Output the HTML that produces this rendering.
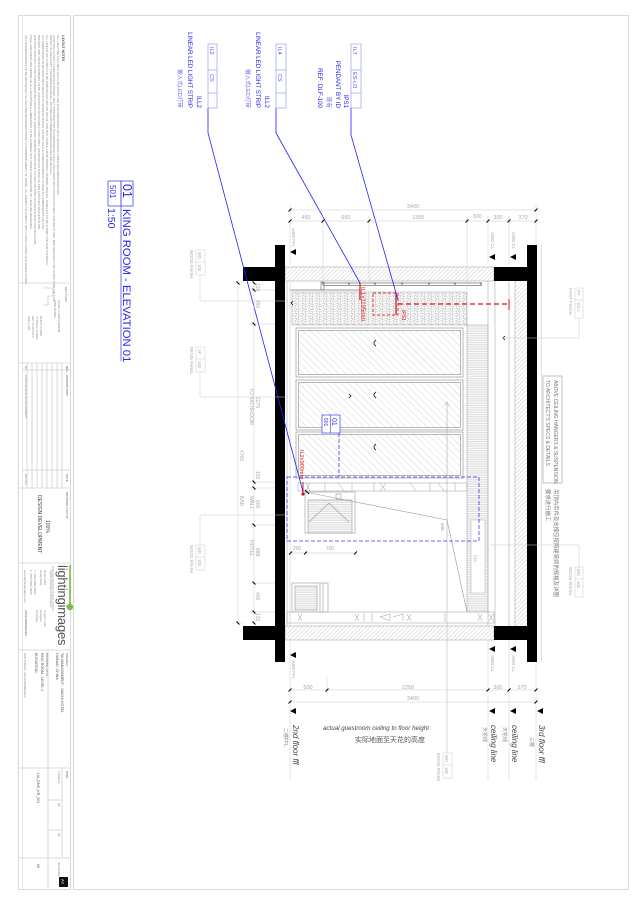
<!DOCTYPE html>
<html><head><meta charset="utf-8"><style>
html,body{margin:0;padding:0;background:#fff;}
svg{display:block;}
text{font-family:"Liberation Sans","Noto Sans CJK SC",sans-serif;}
</style></head><body>
<svg width="640" height="905" viewBox="0 0 640 905" xmlns="http://www.w3.org/2000/svg">
<defs>
<pattern id="h45" width="3" height="3" patternUnits="userSpaceOnUse" patternTransform="rotate(45)"><line x1="0" y1="0" x2="0" y2="3" stroke="#aaa" stroke-width="0.6"/></pattern>
<pattern id="pan" width="5" height="5" patternUnits="userSpaceOnUse" patternTransform="rotate(-45)"><line x1="0" y1="0" x2="0" y2="5" stroke="#b0b0b0" stroke-width="0.5"/></pattern>
<pattern id="hz" width="4" height="1.8" patternUnits="userSpaceOnUse"><line x1="0" y1="0.5" x2="4" y2="0.5" stroke="#bbb" stroke-width="0.5"/></pattern>
<pattern id="wood" width="7" height="5" patternUnits="userSpaceOnUse"><path d="M0 1 Q2 0 3.5 1.5 T7 1 M0 3.5 Q2 2.5 3.5 4 T7 3.5 M1 0 L2.5 5 M5 0 L4 5" stroke="#b5b5b5" stroke-width="0.45" fill="none"/></pattern>
</defs>
<rect width="640" height="905" fill="#fff"/>

<!-- frames -->
<rect x="18.5" y="15.5" width="52" height="874" fill="none" stroke="#d8d8d8" stroke-width="1"/>
<line x1="22.5" y1="15" x2="22.5" y2="889" stroke="#e6e6e6"/>
<rect x="73.5" y="15.5" width="555" height="874" fill="none" stroke="#d8d8d8" stroke-width="1"/>

<!-- title block dividers -->
<g stroke="#d0d0d0" stroke-width="0.8">
<line x1="18" y1="283" x2="70" y2="283"/>
<line x1="18" y1="363" x2="70" y2="363"/>
<line x1="18" y1="488" x2="70" y2="488"/>
<line x1="18" y1="563" x2="70" y2="563"/>
<line x1="18" y1="650" x2="70" y2="650"/>
<line x1="18" y1="768" x2="70" y2="768"/>
<line x1="18" y1="858" x2="70" y2="858"/>
<line x1="62" y1="363" x2="62" y2="488"/>
<line x1="57" y1="363" x2="57" y2="488"/>
<line x1="52" y1="363" x2="52" y2="488"/>
<line x1="47" y1="363" x2="47" y2="488"/>
<line x1="42" y1="363" x2="42" y2="488"/>
<line x1="37" y1="363" x2="37" y2="488"/>
<line x1="32" y1="363" x2="32" y2="488"/>
<line x1="27" y1="363" x2="27" y2="488"/>
<line x1="22" y1="370" x2="70" y2="370"/>
<line x1="22" y1="470" x2="70" y2="470"/>
<line x1="48" y1="650" x2="48" y2="768"/>
<line x1="48" y1="768" x2="48" y2="858"/>
<line x1="48" y1="800" x2="62" y2="800"/>
<line x1="48" y1="830" x2="62" y2="830"/>
<line x1="62" y1="768" x2="62" y2="858"/>
<line x1="48" y1="858" x2="48" y2="889"/>
</g>

<!-- title block texts -->
<g fill="#888" font-size="3">
<text x="62" y="35" transform="rotate(90 62 35)" font-weight="bold" font-size="3.4" fill="#555">LAYOUT NOTES</text>
<text x="57" y="35" transform="rotate(90 57 35)">ALL LIGHTING FIXTURES SHALL BE INSTALLED IN ACCORDANCE WITH MANUFACTURER RECOMMENDATIONS</text>
<text x="53" y="35" transform="rotate(90 53 35)">LIGHTING LAYOUT IS FOR DESIGN INTENT ONLY. CONTRACTOR TO COORDINATE FINAL LOCATIONS WITH ARCHITECTURAL CEILING PLANS, M&amp;E SERVICES AND STRUCTURE ON SITE</text>
<text x="50" y="35" transform="rotate(90 50 35)">REFER TO ARCHITECT'S DRAWINGS FOR ALL SETTING OUT DIMENSIONS AND CEILING DETAILS</text>
<text x="46" y="35" transform="rotate(90 46 35)">ALL LINEAR LED STRIPS TO BE CONCEALED WITHIN DETAIL AND NOT VISIBLE FROM NORMAL VIEWING ANGLES. SAMPLES TO BE SUBMITTED FOR APPROVAL</text>
<text x="42" y="35" transform="rotate(90 42 35)">ALL DIMENSIONS IN MILLIMETRES UNLESS OTHERWISE NOTED. DO NOT SCALE FROM DRAWINGS. CHECK ALL DIMENSIONS ON SITE</text>
<text x="38" y="35" transform="rotate(90 38 35)">DRIVERS AND TRANSFORMERS TO BE LOCATED IN ACCESSIBLE POSITIONS, MAXIMUM DISTANCE AS PER SUPPLIER SPECIFICATION</text>
<text x="34" y="35" transform="rotate(90 34 35)">CONTROL CIRCUITS TO BE CONFIRMED WITH ELECTRICAL ENGINEER. DIMMING PROTOCOL AS PER LIGHTING SCHEDULE AND SPECIFICATION</text>
<text x="30" y="35" transform="rotate(90 30 35)">FINAL FOCUSING AND AIMING OF ALL ADJUSTABLE LUMINAIRES TO BE CARRIED OUT UNDER SUPERVISION OF LIGHTING DESIGNER</text>
<text x="25" y="35" transform="rotate(90 25 35)">ANY DISCREPANCIES TO BE REPORTED TO LIGHTING DESIGNER PRIOR TO COMMENCEMENT OF WORK. ALL WORKS TO COMPLY WITH LOCAL CODES AND REGULATIONS</text>

<text x="65" y="287" transform="rotate(90 65 287)" fill="#666">KEY PLAN</text>
<text x="58" y="300" transform="rotate(90 58 300)">LEVEL 2 GUESTROOM</text>
<text x="54" y="300" transform="rotate(90 54 300)">KING ROOM</text>
<text x="40" y="316" transform="rotate(90 40 316)">NORTH POINT</text>
<text x="36" y="316" transform="rotate(90 36 316)">TYPICAL FLOOR</text>
<text x="32" y="316" transform="rotate(90 32 316)">KEY PLAN NTS</text>
<text x="28" y="316" transform="rotate(90 28 316)">SEE A-101</text>

<text x="66" y="366" transform="rotate(90 66 366)" fill="#555">REV</text>
<text x="66" y="375" transform="rotate(90 66 375)" fill="#555">DESCRIPTION</text>
<text x="66" y="474" transform="rotate(90 66 474)" fill="#555">DATE</text>
<text x="25" y="366" transform="rotate(90 25 366)">00</text>
<text x="25" y="375" transform="rotate(90 25 375)">100% DESIGN DEVELOPMENT</text>
<text x="25" y="474" transform="rotate(90 25 474)">2014.03</text>

<text x="66" y="492" transform="rotate(90 66 492)" fill="#666">DRAWING STATUS</text>
<text x="46" y="520" transform="rotate(90 46 520)" font-size="5" fill="#444">100%</text>
<text x="38" y="495" transform="rotate(90 38 495)" font-size="5" fill="#444">DESIGN DEVELOPMENT</text>

<text x="50" y="570" transform="rotate(90 50 570)">Lighting Design Consultants</text>
<text x="44" y="570" transform="rotate(90 44 570)">Room 1201</text>
<text x="40" y="570" transform="rotate(90 40 570)">Hong Kong</text>
<text x="34" y="570" transform="rotate(90 34 570)">T +852 0000 0000</text>
<text x="30" y="570" transform="rotate(90 30 570)">F +852 0000 0000</text>
<text x="24" y="570" transform="rotate(90 24 570)">www.lightingimages.com</text>
<text x="44" y="610" transform="rotate(90 44 610)">Project Lead</text>
<text x="40" y="610" transform="rotate(90 40 610)">Designer</text>
<text x="36" y="610" transform="rotate(90 36 610)">Checked</text>
<text x="25" y="610" transform="rotate(90 25 610)" fill="#555">LIGHTINGIMAGES</text>

<text x="66" y="653" transform="rotate(90 66 653)" fill="#666">PROJECT</text>
<text x="61" y="653" transform="rotate(90 61 653)" font-size="3.6" fill="#555">TAI MANAGEMENT - SANYA HOTEL</text>
<text x="56" y="653" transform="rotate(90 56 653)" font-size="3.6" fill="#555">HAINAN, CHINA</text>
<text x="46" y="653" transform="rotate(90 46 653)" fill="#666">DRAWING TITLE</text>
<text x="41" y="653" transform="rotate(90 41 653)" font-size="3.6" fill="#555">KING ROOM - LEVEL 2</text>
<text x="35" y="653" transform="rotate(90 35 653)" font-size="3.6" fill="#555">ELEVATION</text>
<text x="24" y="653" transform="rotate(90 24 653)">COPYRIGHT LIGHTINGIMAGES</text>

<text x="66" y="771" transform="rotate(90 66 771)" fill="#666">DWG</text>
<text x="58" y="771" transform="rotate(90 58 771)">1:50@A3</text>
<text x="58" y="803" transform="rotate(90 58 803)">NP</text>
<text x="58" y="833" transform="rotate(90 58 833)">NP</text>
<text x="37" y="773" transform="rotate(90 37 773)" font-size="3.6" fill="#555">LIA_DNG_KR_501</text>
<text x="58" y="862" transform="rotate(90 58 862)">REVISION</text>
<text x="37" y="864" transform="rotate(90 37 864)" font-size="3.6" fill="#555">00</text>
</g>
<path d="M43 288 L53 288 L53 296 L48 296 L48 305 L43 305" fill="none" stroke="#bbb" stroke-width="0.6"/>

<!-- logo -->
<line x1="70" y1="565" x2="70" y2="607" stroke="#7ac143" stroke-width="1.6"/>
<circle cx="70" cy="607" r="3.2" fill="#7ac143"/>
<text x="58" y="565" transform="rotate(90 58 565)" font-size="13" fill="#555" letter-spacing="-0.2">lighting<tspan fill="#555">images</tspan></text>
<text x="52" y="566" transform="rotate(90 52 566)" font-size="2.6" fill="#999">LIGHTING ARCHITECTURAL DESIGN</text>

<rect x="59" y="877" width="9" height="10" fill="#111"/>
<text x="61.5" y="879" transform="rotate(90 61.5 879)" font-size="4" fill="#fff">A3</text>

<!-- ===== DRAWING ===== -->
<rect x="285" y="267" width="209" height="14" fill="url(#h45)"/>
<rect x="285" y="626" width="209" height="14" fill="url(#h45)"/>
<rect x="515" y="281" width="12" height="345" fill="url(#h45)"/>
<g stroke="#aaa" stroke-width="0.6" fill="none">
<rect x="285" y="267" width="209" height="14"/>
<rect x="285" y="626" width="209" height="14"/>
<line x1="515" y1="281" x2="515" y2="626"/>
<line x1="509" y1="281" x2="509" y2="626"/>
<line x1="495" y1="281" x2="495" y2="626"/>
<line x1="488" y1="281" x2="488" y2="626"/>
<line x1="287" y1="281" x2="287" y2="626"/>
<line x1="290" y1="281" x2="290" y2="626" stroke="#ccc"/>
<line x1="541.5" y1="245" x2="541.5" y2="662" stroke="#ccc"/>
</g>

<g fill="#000">
<rect x="275" y="245" width="10" height="417"/>
<rect x="243" y="267" width="42" height="14"/>
<rect x="243" y="626" width="42" height="14"/>
<rect x="527" y="245" width="10" height="417"/>
<rect x="494" y="267" width="43" height="14"/>
<rect x="494" y="626" width="43" height="14"/>
</g>

<g stroke="#777" stroke-width="0.7" fill="none">
<line x1="323" y1="283" x2="482" y2="283"/>
<line x1="323" y1="285.5" x2="482" y2="285.5"/>
<line x1="290" y1="290" x2="360" y2="290"/>
<rect x="321" y="282" width="3" height="8"/>
</g>
<g fill="#888">
<circle cx="323" cy="283.5" r="1.2"/><circle cx="349" cy="283.5" r="1.2"/><circle cx="375" cy="283.5" r="1.2"/><circle cx="402" cy="283.5" r="1.2"/><circle cx="429" cy="283.5" r="1.2"/><circle cx="455" cy="283.5" r="1.2"/><circle cx="481" cy="283.5" r="1.2"/>
</g>

<rect x="292" y="292" width="175" height="33" fill="url(#wood)" stroke="#999" stroke-width="0.5"/>

<g stroke="#999" stroke-width="0.7">
<rect x="296" y="328" width="167" height="49" fill="#fff"/>
<rect x="298.5" y="330.5" width="162" height="44" fill="url(#pan)"/>
<rect x="296" y="380" width="167" height="50" fill="#fff"/>
<rect x="298.5" y="382.5" width="162" height="45" fill="url(#pan)"/>
<rect x="296" y="432" width="167" height="46" fill="#fff"/>
<rect x="298.5" y="434.5" width="162" height="41" fill="url(#pan)"/>
</g>
<g stroke="#111" stroke-width="0.8" fill="none">
<path d="M376 340 Q372 343 376 346"/>
<path d="M376 392 Q372 395 376 398"/>
<path d="M376 444 Q372 447 376 450"/>
<path d="M349 394 L351 396 L349 398"/>
<path d="M293 301 L291 303 L293 305"/>
<path d="M505 336 L503 338 L505 340"/>
<path d="M480 543 L478 545 L480 547"/>
</g>

<rect x="298" y="483" width="169" height="8" fill="#fff" stroke="#aaa" stroke-width="0.6"/>
<g stroke="#999" stroke-width="0.5">
<line x1="306" y1="483" x2="310" y2="491"/><line x1="310" y1="483" x2="306" y2="491"/>
<line x1="325" y1="483" x2="325" y2="491"/><line x1="338" y1="483" x2="344" y2="491"/>
<line x1="352" y1="483" x2="352" y2="491"/><line x1="374" y1="483" x2="374" y2="491"/>
<line x1="380" y1="483" x2="386" y2="491"/><line x1="386" y1="483" x2="380" y2="491"/>
<line x1="410" y1="483" x2="416" y2="491"/><line x1="430" y1="483" x2="430" y2="491"/>
<line x1="438" y1="483" x2="444" y2="491"/><line x1="455" y1="483" x2="455" y2="491"/>
</g>

<rect x="467" y="325" width="21" height="287" fill="url(#hz)" stroke="#aaa" stroke-width="0.6"/>
<rect x="471" y="520" width="14" height="73" fill="#fff" stroke="#aaa" stroke-width="0.5"/>
<text x="474" y="555" transform="rotate(90 474 555)" font-size="4" fill="#aaa">545</text>

<g stroke="#999" stroke-width="0.6" fill="none">
<rect x="305" y="492" width="50" height="41"/>
<rect x="308" y="500" width="44" height="33" fill="url(#hz)"/>
<path d="M309 522 L329 503 L349 522"/>
<rect x="336" y="494" width="5" height="5"/>
<path d="M305 492 L447 520 L467 612"/>
<rect x="292" y="583" width="36" height="29"/>
<rect x="295" y="586" width="22" height="24" fill="url(#hz)"/>
<line x1="320" y1="583" x2="320" y2="612"/><line x1="323" y1="583" x2="323" y2="612"/>
</g>
<text x="441" y="523" transform="rotate(90 441 523)" font-size="4.5" fill="#999">600</text>
<g stroke="#000" stroke-width="0.9">
<line x1="305" y1="490" x2="309" y2="494"/>
</g>
<g stroke="#bbb" stroke-width="0.5"><line x1="290" y1="553" x2="355" y2="553"/></g>
<g stroke="#000" stroke-width="1">
<line x1="289" y1="554.5" x2="292" y2="551.5"/><line x1="304" y1="554.5" x2="307" y2="551.5"/><line x1="354" y1="554.5" x2="357" y2="551.5"/>
</g>
<text x="297" y="550" font-size="5" fill="#aaa" text-anchor="middle">200</text>
<text x="330" y="550" font-size="5" fill="#aaa" text-anchor="middle">700</text>

<rect x="287" y="612" width="207" height="11" fill="none" stroke="#aaa" stroke-width="0.6"/>
<g stroke="#999" stroke-width="0.5">
<line x1="298" y1="614" x2="302" y2="621"/><line x1="302" y1="614" x2="298" y2="621"/>
<line x1="355" y1="614" x2="359" y2="621"/><line x1="359" y1="614" x2="355" y2="621"/>
<line x1="364" y1="613" x2="364" y2="622"/><line x1="372" y1="613" x2="372" y2="622"/>
<path d="M380 617 L390 614 L390 621 Z M393 617 L403 614 L403 621" fill="none"/>
<line x1="407" y1="614" x2="411" y2="621"/><line x1="411" y1="614" x2="407" y2="621"/>
<line x1="445" y1="613" x2="445" y2="622"/>
<line x1="478" y1="614" x2="482" y2="621"/><line x1="482" y1="614" x2="478" y2="621"/>
<line x1="489" y1="614" x2="493" y2="621"/><line x1="493" y1="614" x2="489" y2="621"/>
</g>
<path d="M444 406 L447 402 L450 406 M447 402 L447 612" stroke="#999" stroke-width="0.5" fill="none"/>
<line x1="447" y1="612" x2="447" y2="753" stroke="#bbb" stroke-width="0.6"/>

<g stroke="#3a3aff" stroke-width="0.8" fill="none" stroke-dasharray="4 2">
<rect x="287" y="477" width="192" height="64"/>
<line x1="339" y1="433" x2="339" y2="477"/>
</g>
<rect x="322" y="415" width="18" height="18" fill="#fff" stroke="#3a3aff" stroke-width="0.7"/>
<line x1="330.5" y1="415" x2="330.5" y2="433" stroke="#3a3aff" stroke-width="0.6"/>
<text x="332" y="418" transform="rotate(90 332 418)" font-size="7" fill="#2a2aee">01</text>
<text x="324" y="418" transform="rotate(90 324 418)" font-size="5" fill="#2a2aee">501</text>

<g stroke="#e01010" fill="none">
<rect x="373" y="293" width="25" height="22" stroke-dasharray="3 2" stroke-width="0.8"/>
<line x1="398" y1="304" x2="509" y2="304" stroke-dasharray="5 3" stroke-width="1.2"/>
<line x1="509" y1="299" x2="509" y2="310" stroke-width="1"/>
<line x1="396" y1="293" x2="396" y2="315" stroke-width="1.2"/>
<line x1="360" y1="283" x2="360" y2="300" stroke-width="1.2"/>
<line x1="303" y1="482" x2="303" y2="493" stroke-width="1"/>
</g>
<circle cx="303" cy="494" r="1.6" fill="#e01010"/>
<text x="361" y="287" transform="rotate(90 361 287)" font-size="6" fill="#e01010">IL1x1195mm</text>
<text x="402" y="310" transform="rotate(90 402 310)" font-size="5" fill="#e01010">IPS1</text>
<text x="300" y="450" transform="rotate(90 300 450)" font-size="5.6" fill="#e01010">IL2x900mm</text>

<g stroke="#2020ff" stroke-width="0.8" fill="none">
<polyline points="208,108 208,133 303,492"/>
<polyline points="276,108 276,133 360,283"/>
<polyline points="351,108 351,135 398,300"/>
</g>
<g stroke="#8a8af5" stroke-width="0.6" fill="none">
<rect x="208" y="44" width="9" height="64"/><line x1="208" y1="70" x2="217" y2="70"/><line x1="208" y1="93" x2="217" y2="93"/>
<rect x="276" y="44" width="10" height="64"/><line x1="276" y1="70" x2="286" y2="70"/><line x1="276" y1="93" x2="286" y2="93"/>
<rect x="351" y="44" width="10" height="64"/><line x1="351" y1="70" x2="361" y2="70"/><line x1="351" y1="93" x2="361" y2="93"/>
</g>
<g fill="#5555f0" font-size="5.5">
<text x="210" y="47" transform="rotate(90 210 47)">IL2</text>
<text x="210" y="74" transform="rotate(90 210 74)">CS</text>
<text x="278" y="47" transform="rotate(90 278 47)">IL4</text>
<text x="278" y="74" transform="rotate(90 278 74)">CS</text>
<text x="353" y="47" transform="rotate(90 353 47)">IL7</text>
<text x="353" y="72" transform="rotate(90 353 72)">ES-LD</text>
</g>
<g fill="#2525f0" font-size="6.2" text-anchor="end">
<text x="197" y="108" transform="rotate(90 197 108)">ILL2</text>
<text x="188" y="108" transform="rotate(90 188 108)">LINEAR LED LIGHT STRIP</text>
<text x="178" y="108" transform="rotate(90 178 108)" fill="#6a6af0" font-size="5.6">嵌入式LED灯带</text>
<text x="265" y="108" transform="rotate(90 265 108)">ILL2</text>
<text x="256" y="108" transform="rotate(90 256 108)">LINEAR LED LIGHT STRIP</text>
<text x="246" y="108" transform="rotate(90 246 108)" fill="#6a6af0" font-size="5.6">嵌入式LED灯带</text>
<text x="344" y="108" transform="rotate(90 344 108)">IPS1</text>
<text x="336" y="108" transform="rotate(90 336 108)">PENDANT BY ID</text>
<text x="327" y="108" transform="rotate(90 327 108)" fill="#6a6af0" font-size="5.6">现有</text>
<text x="318" y="108" transform="rotate(90 318 108)">REF: DLF-100</text>
</g>

<g stroke="#4a4af0" stroke-width="0.8" fill="none">
<rect x="121" y="181" width="12" height="25"/>
<rect x="108" y="181" width="13" height="25"/>
<line x1="121" y1="206" x2="121" y2="361"/>
</g>
<g fill="#2a2aee">
<text x="123" y="184" transform="rotate(90 123 184)" font-size="12.5">01</text>
<text x="123" y="209" transform="rotate(90 123 209)" font-size="11.3">KING ROOM - ELEVATION 01</text>
<text x="110" y="185" transform="rotate(90 110 185)" font-size="8">501</text>
<text x="108" y="208" transform="rotate(90 108 208)" font-size="10.5">1:50</text>
</g>

<g stroke="#ccc" stroke-width="0.5">
<line x1="290" y1="210" x2="536" y2="210"/>
<line x1="290" y1="221" x2="536" y2="221"/>
<line x1="290" y1="205" x2="290" y2="265"/>
<line x1="323" y1="216" x2="323" y2="280"/>
<line x1="369" y1="216" x2="369" y2="280"/>
<line x1="467" y1="216" x2="467" y2="290"/>
<line x1="488" y1="216" x2="488" y2="265"/>
<line x1="509" y1="216" x2="509" y2="265"/>
<line x1="536" y1="205" x2="536" y2="245"/>
</g>
<g stroke="#000" stroke-width="1">
<line x1="288.5" y1="211.5" x2="291.5" y2="208.5"/><line x1="534.5" y1="211.5" x2="537.5" y2="208.5"/>
<line x1="288.5" y1="222.5" x2="291.5" y2="219.5"/><line x1="321.5" y1="222.5" x2="324.5" y2="219.5"/>
<line x1="367.5" y1="222.5" x2="370.5" y2="219.5"/><line x1="465.5" y1="222.5" x2="468.5" y2="219.5"/>
<line x1="486.5" y1="222.5" x2="489.5" y2="219.5"/><line x1="507.5" y1="222.5" x2="510.5" y2="219.5"/>
<line x1="534.5" y1="222.5" x2="537.5" y2="219.5"/>
</g>
<g fill="#aaa" font-size="5.5" text-anchor="middle">
<text x="413" y="208">3400</text>
<text x="306" y="219">450</text><text x="346" y="219">650</text><text x="418" y="219">1350</text>
<text x="477" y="218">300</text><text x="498" y="219">300</text><text x="523" y="219">370</text>
</g>
<g fill="#000">
<path d="M290 252 L296 249 L296 255 Z"/>
<path d="M489 257 L495 254 L495 260 Z"/>
<path d="M510 257 L516 254 L516 260 Z"/>
</g>
<g fill="#aaa" font-size="4.5">
<text x="292" y="228" transform="rotate(90 292 228)">±000 FFL</text>
<text x="491" y="232" transform="rotate(90 491 232)">2800 CL</text>
<text x="512" y="232" transform="rotate(90 512 232)">2900 CL</text>
</g>

<g fill="#000">
<path d="M290 655 L296 652 L296 658 Z"/>
<path d="M489 649 L495 646 L495 652 Z"/>
<path d="M510 649 L516 646 L516 652 Z"/>
<path d="M290 711 L296 708 L296 714 Z"/>
<path d="M489 711 L495 708 L495 714 Z"/>
<path d="M510 711 L516 708 L516 714 Z"/>
<path d="M537 711 L543 708 L543 714 Z"/>
</g>
<g fill="#aaa" font-size="4.5">
<text x="292" y="660" transform="rotate(90 292 660)">±000 FFL</text>
<text x="491" y="655" transform="rotate(90 491 655)">2800 CL</text>
<text x="512" y="655" transform="rotate(90 512 655)">2900 CL</text>
</g>
<g stroke="#ccc" stroke-width="0.5">
<line x1="290" y1="690" x2="536" y2="690"/>
<line x1="290" y1="702" x2="536" y2="702"/>
<line x1="290" y1="640" x2="290" y2="780"/>
<line x1="327" y1="677" x2="327" y2="694"/>
<line x1="488" y1="640" x2="488" y2="780"/>
<line x1="509" y1="640" x2="509" y2="780"/>
<line x1="536" y1="662" x2="536" y2="780"/>
</g>
<g stroke="#000" stroke-width="1">
<line x1="288.5" y1="691.5" x2="291.5" y2="688.5"/><line x1="325.5" y1="691.5" x2="328.5" y2="688.5"/>
<line x1="486.5" y1="691.5" x2="489.5" y2="688.5"/><line x1="507.5" y1="691.5" x2="510.5" y2="688.5"/>
<line x1="534.5" y1="691.5" x2="537.5" y2="688.5"/>
<line x1="288.5" y1="703.5" x2="291.5" y2="700.5"/><line x1="534.5" y1="703.5" x2="537.5" y2="700.5"/>
</g>
<g fill="#aaa" font-size="5.5" text-anchor="middle">
<text x="308" y="689">500</text><text x="408" y="689">2250</text>
<text x="498" y="689">300</text><text x="522" y="689">370</text>
<text x="413" y="700">3400</text>
</g>
<g fill="#444" font-size="8" font-style="italic">
<text x="293" y="725" transform="rotate(90 293 725)">2nd floor ffl</text>
<text x="491" y="725" transform="rotate(90 491 725)">ceiling line</text>
<text x="512" y="725" transform="rotate(90 512 725)">ceiling line</text>
<text x="539" y="725" transform="rotate(90 539 725)">3rd floor ffl</text>
</g>
<g fill="#888" font-size="5">
<text x="284" y="728" transform="rotate(90 284 728)">二楼FFL</text>
<text x="483" y="727" transform="rotate(90 483 727)">天花线</text>
<text x="503" y="727" transform="rotate(90 503 727)">天花线</text>
<text x="530" y="737" transform="rotate(90 530 737)">三楼</text>
</g>
<text x="323" y="730" font-size="6.2" font-style="italic" fill="#444">actual guestroom ceiling to floor height</text>
<text x="355" y="742" font-size="7" fill="#555">实际地面至天花的高度</text>

<rect x="443" y="753" width="9" height="25" fill="none" stroke="#ccc" stroke-width="0.5"/>
<line x1="443" y1="765" x2="452" y2="765" stroke="#ccc" stroke-width="0.5"/>
<g fill="#aaa" font-size="4.2">
<text x="445" y="755" transform="rotate(90 445 755)">WD</text>
<text x="445" y="767" transform="rotate(90 445 767)">100</text>
<text x="437" y="753" transform="rotate(90 437 753)">WOOD FINISH</text>
</g>

<g stroke="#ccc" stroke-width="0.5">
<line x1="238" y1="283" x2="238" y2="623"/>
<line x1="254" y1="283" x2="254" y2="623"/>
<line x1="232" y1="283" x2="243" y2="283"/>
<line x1="232" y1="623" x2="243" y2="623"/>
<line x1="250" y1="290" x2="275" y2="290"/>
<line x1="250" y1="324" x2="275" y2="324"/>
<line x1="250" y1="482" x2="275" y2="482"/>
<line x1="250" y1="488" x2="275" y2="488"/>
<line x1="250" y1="525" x2="275" y2="525"/>
<line x1="250" y1="583" x2="275" y2="583"/>
<line x1="250" y1="612" x2="275" y2="612"/>
</g>
<g stroke="#000" stroke-width="1">
<line x1="236.5" y1="281.5" x2="239.5" y2="284.5"/><line x1="236.5" y1="621.5" x2="239.5" y2="624.5"/>
<line x1="252.5" y1="281.5" x2="255.5" y2="284.5"/><line x1="252.5" y1="288.5" x2="255.5" y2="291.5"/>
<line x1="252.5" y1="322.5" x2="255.5" y2="325.5"/><line x1="252.5" y1="480.5" x2="255.5" y2="483.5"/>
<line x1="252.5" y1="486.5" x2="255.5" y2="489.5"/><line x1="252.5" y1="523.5" x2="255.5" y2="526.5"/>
<line x1="252.5" y1="581.5" x2="255.5" y2="584.5"/><line x1="252.5" y1="610.5" x2="255.5" y2="613.5"/>
<line x1="252.5" y1="621.5" x2="255.5" y2="624.5"/>
</g>
<g fill="#aaa" font-size="5">
<text x="256" y="283" transform="rotate(90 256 283)">120</text>
<text x="256" y="300" transform="rotate(90 256 300)">450</text>
<text x="256" y="397" transform="rotate(90 256 397)">2275</text>
<text x="250" y="388" transform="rotate(90 250 388)">TO BATHROOM</text>
<text x="256" y="471" transform="rotate(90 256 471)">100</text>
<text x="256" y="500" transform="rotate(90 256 500)">600</text>
<text x="250" y="496" transform="rotate(90 250 496)">WALL</text>
<text x="240" y="496" transform="rotate(90 240 496)">BAR</text>
<text x="240" y="450" transform="rotate(90 240 450)">4700</text>
<text x="256" y="548" transform="rotate(90 256 548)">888</text>
<text x="250" y="540" transform="rotate(90 250 540)">HOTEL</text>
<text x="256" y="592" transform="rotate(90 256 592)">400</text>
<text x="256" y="613" transform="rotate(90 256 613)">130</text>
</g>

<g stroke="#ccc" stroke-width="0.5" fill="none">
<rect x="196" y="250" width="9" height="25"/><line x1="196" y1="262" x2="205" y2="262"/>
<polyline points="200,275 200,301 287,301"/>
<rect x="196" y="347" width="9" height="25"/><line x1="196" y1="359" x2="205" y2="359"/>
<polyline points="200,372 200,397 287,397"/>
<rect x="196" y="545" width="9" height="25"/><line x1="196" y1="557" x2="205" y2="557"/>
<polyline points="200,545 200,515 287,515"/>
</g>
<g fill="#aaa" font-size="4.2">
<text x="198" y="252" transform="rotate(90 198 252)">WD</text><text x="198" y="264" transform="rotate(90 198 264)">100</text>
<text x="190" y="250" transform="rotate(90 190 250)">WOOD FINISH</text>
<text x="198" y="349" transform="rotate(90 198 349)">SF</text><text x="198" y="361" transform="rotate(90 198 361)">100</text>
<text x="190" y="347" transform="rotate(90 190 347)">RESIN PANEL</text>
<text x="198" y="547" transform="rotate(90 198 547)">WD</text><text x="198" y="559" transform="rotate(90 198 559)">100</text>
<text x="190" y="545" transform="rotate(90 190 545)">WOOD FINISH</text>
</g>

<g stroke="#ccc" stroke-width="0.5" fill="none">
<rect x="575" y="288" width="8" height="30"/><line x1="575" y1="300" x2="583" y2="300"/>
<polyline points="579,318 579,338 503,338"/>
<rect x="575" y="567" width="8" height="30"/><line x1="575" y1="579" x2="583" y2="579"/>
<polyline points="579,567 579,545 490,545"/>
</g>
<g fill="#aaa" font-size="4.2">
<text x="577" y="290" transform="rotate(90 577 290)">PT</text><text x="577" y="302" transform="rotate(90 577 302)">101A</text>
<text x="569" y="288" transform="rotate(90 569 288)">PAINT FINISH</text>
<text x="577" y="569" transform="rotate(90 577 569)">WD</text><text x="577" y="581" transform="rotate(90 577 581)">100</text>
<text x="569" y="567" transform="rotate(90 569 567)">WOOD FINISH</text>
</g>

<rect x="543" y="376" width="19" height="107" fill="none" stroke="#999" stroke-width="0.6"/>
<g fill="#777" font-size="5">
<text x="554" y="380" transform="rotate(90 554 380)">ABOVE CEILING HANGERS &amp; SUSPENSION</text>
<text x="546" y="380" transform="rotate(90 546 380)">TO ARCHITECT'S SPECS &amp; DETAILS</text>
<text x="554" y="489" transform="rotate(90 554 489)" font-size="5.4">吊顶内吊件及支撑应按照建筑师的规格及详图</text>
<text x="546" y="489" transform="rotate(90 546 489)" font-size="5.4">要求进行施工</text>
</g>
</svg>
</body></html>
